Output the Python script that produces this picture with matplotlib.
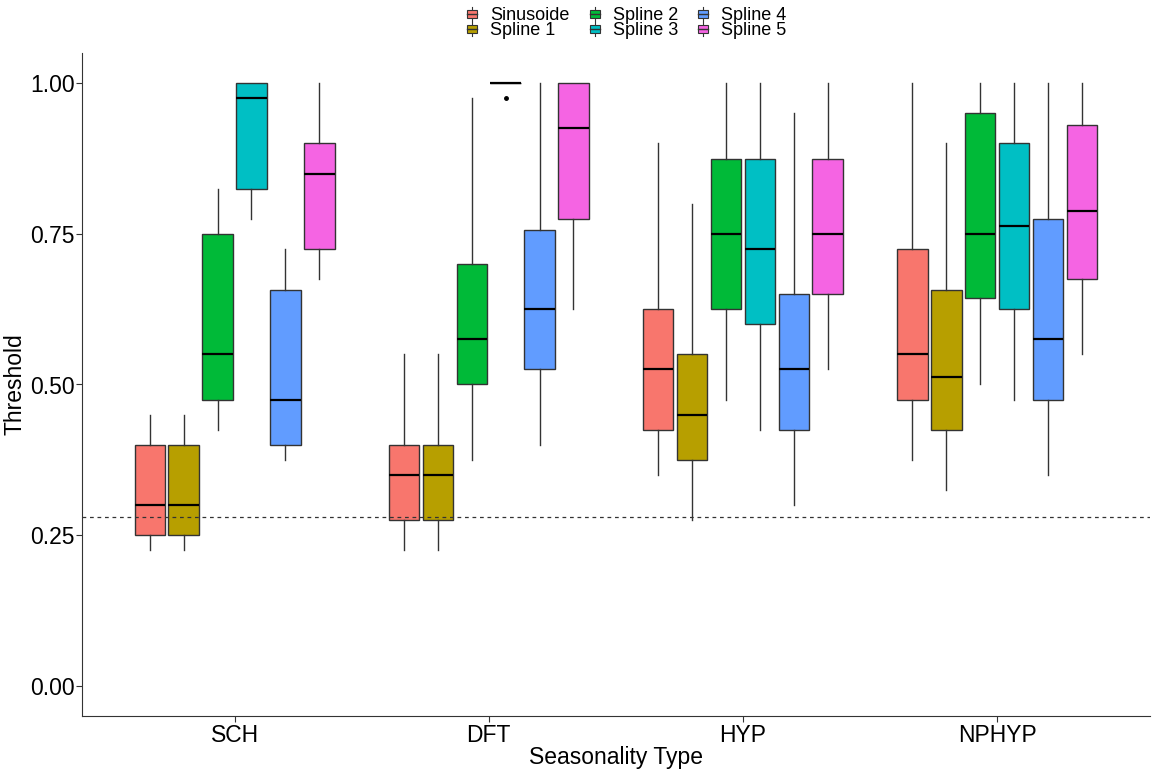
import matplotlib
matplotlib.use("Agg")
import matplotlib.pyplot as plt
from matplotlib.legend_handler import HandlerBase
from matplotlib.patches import Rectangle
from matplotlib.lines import Line2D

plt.rcParams['font.family'] = ['Liberation Sans', 'DejaVu Sans']

seasonality = ['SCH', 'DFT', 'HYP', 'NPHYP']
methods = ['Sinusoide', 'Spline 1', 'Spline 2', 'Spline 3', 'Spline 4', 'Spline 5']
colors = ['#F8766D', '#B79F00', '#00BA38', '#00BFC4', '#619CFF', '#F564E3']

# five-number summaries per method: (whisker low, q1, median, q3, whisker high)
sch = [
    (0.225, 0.25, 0.30, 0.40, 0.45),
    (0.225, 0.25, 0.30, 0.40, 0.45),
    (0.425, 0.475, 0.55, 0.75, 0.825),
    (0.775, 0.825, 0.975, 1.0, 1.0),
    (0.375, 0.40, 0.475, 0.65625, 0.725),
    (0.675, 0.725, 0.85, 0.90, 1.0),
]
dft = [
    (0.225, 0.275, 0.35, 0.40, 0.55),
    (0.225, 0.275, 0.35, 0.40, 0.55),
    (0.375, 0.50, 0.575, 0.70, 0.975),
    (1.0, 1.0, 1.0, 1.0, 1.0),
    (0.40, 0.525, 0.625, 0.75625, 1.0),
    (0.625, 0.775, 0.925, 1.0, 1.0),
]
hyp = [
    (0.35, 0.425, 0.525, 0.625, 0.90),
    (0.275, 0.375, 0.45, 0.55, 0.80),
    (0.475, 0.625, 0.75, 0.875, 1.0),
    (0.425, 0.60, 0.725, 0.875, 1.0),
    (0.30, 0.425, 0.525, 0.65, 0.95),
    (0.525, 0.65, 0.75, 0.875, 1.0),
]
nphyp = [
    (0.375, 0.475, 0.55, 0.725, 1.0),
    (0.325, 0.425, 0.5125, 0.65625, 0.90),
    (0.50, 0.64375, 0.75, 0.95, 1.0),
    (0.475, 0.625, 0.7625, 0.90, 1.0),
    (0.35, 0.475, 0.575, 0.775, 1.0),
    (0.55, 0.675, 0.7875, 0.93125, 1.0),
]
outliers = {('DFT', 'Spline 3'): [0.975]}
cutoff = 0.28

summaries = [sch, dft, hyp, nphyp]

fig = plt.figure(figsize=(11.52, 7.69), dpi=100)
ax = fig.add_axes([0.0712, 0.069, 0.9268, 0.862])

dodge = 0.8 / len(methods)
box_w = dodge * 0.9
edge = '#333333'

for gi, (group, rows) in enumerate(zip(seasonality, summaries)):
    for mi, (name, row) in enumerate(zip(methods, rows)):
        lo, q1, med, q3, hi = row
        pos = gi + 1 - 0.4 + dodge * (mi + 0.5)
        stats = [dict(whislo=lo, q1=q1, med=med, q3=q3, whishi=hi,
                      fliers=outliers.get((group, name), []))]
        ax.bxp(stats, positions=[pos], widths=box_w, patch_artist=True,
               showcaps=False,
               boxprops=dict(facecolor=colors[mi], edgecolor=edge, linewidth=1.0),
               whiskerprops=dict(color=edge, linewidth=1.0),
               medianprops=dict(color='black', linewidth=1.6),
               flierprops=dict(marker='o', markersize=2.5, markerfacecolor='black',
                               markeredgecolor='black'))

ax.axhline(cutoff, color='#333333', linestyle=(0, (3, 3)), linewidth=0.9)

ax.set_xlim(0.4, 4.6)
ax.set_ylim(-0.05, 1.05)
ax.set_xticks(range(1, len(seasonality) + 1))
ax.set_xticklabels(seasonality)
ax.set_yticks([0.0, 0.25, 0.5, 0.75, 1.0])
ax.set_yticklabels(['0.00', '0.25', '0.50', '0.75', '1.00'])
ax.tick_params(labelsize=16.5, colors='#333333', labelcolor='black', length=4)
ax.tick_params(axis='x', pad=2)
ax.tick_params(axis='y', pad=1.5)
for side in ['top', 'right']:
    ax.spines[side].set_visible(False)
for side in ['left', 'bottom']:
    ax.spines[side].set_color('#333333')
ax.set_xlabel('Seasonality Type', fontsize=16.5, labelpad=-1)
ax.set_ylabel('Threshold', fontsize=16.5, labelpad=2)


class BoxKey(HandlerBase):
    def create_artists(self, legend, orig_handle, xdescent, ydescent,
                       width, height, fontsize, trans):
        cx = width / 2 - xdescent
        bw = width * 0.7
        box = Rectangle((cx - bw / 2, -ydescent + height * 0.2), bw, height * 0.6,
                        facecolor=orig_handle.get_facecolor(), edgecolor=edge,
                        linewidth=0.8, transform=trans)
        med = Line2D([cx - bw / 2, cx + bw / 2], [-ydescent + height / 2] * 2,
                     color=edge, linewidth=1.0, transform=trans)
        wh = Line2D([cx, cx], [-ydescent, -ydescent + height],
                    color=edge, linewidth=0.8, transform=trans)
        return [wh, box, med]


handles = [Rectangle((0, 0), 1, 1, facecolor=c) for c in colors]
fig.legend(handles, methods, handler_map={Rectangle: BoxKey()},
           loc='upper center', bbox_to_anchor=(0.543, 1.012), ncol=3,
           frameon=False, fontsize=13, handlelength=0.8, handleheight=0.8,
           handletextpad=0.6, columnspacing=1.0, labelspacing=-0.12)

fig.savefig('out.png', dpi=100)
